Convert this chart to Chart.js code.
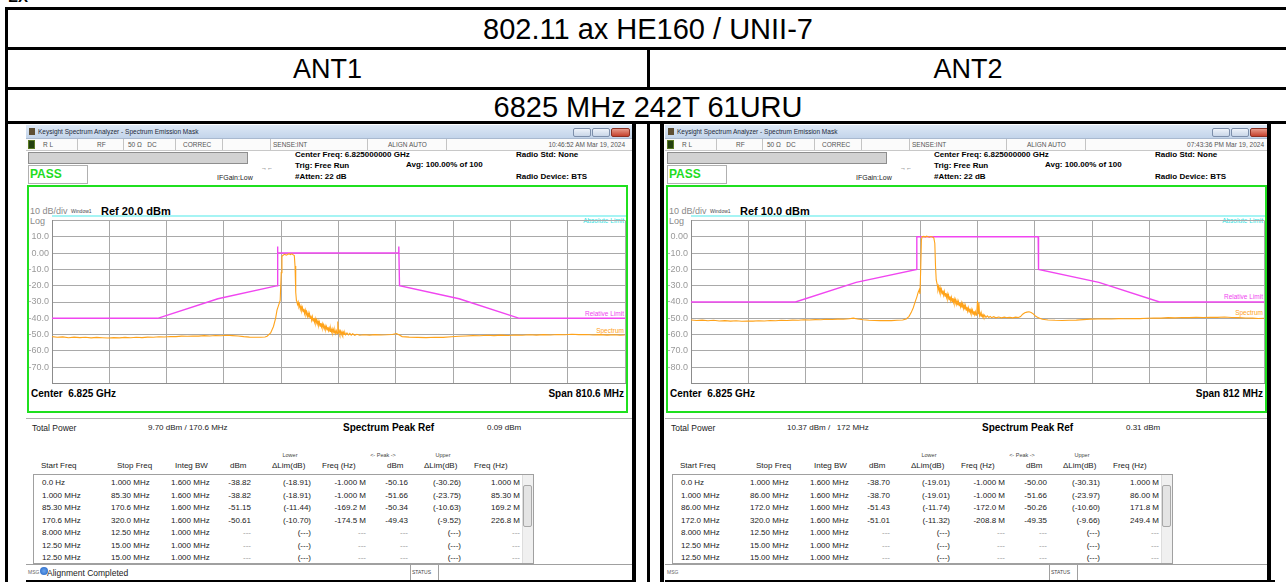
<!DOCTYPE html>
<html>
<head>
<meta charset="utf-8">
<script src="https://cdn.jsdelivr.net/npm/chart.js@4.4.1/dist/chart.umd.min.js"></script>
<style>
  body { margin:0; width:1286px; height:582px; overflow:hidden; position:relative; background:#fff;
         font-family:"Liberation Sans", Arial, sans-serif; color:#000; }
  .ln { position:absolute; background:#000; }
  .hd { position:absolute; text-align:center; font-size:29px; line-height:32px; }
  .panel { position:absolute; top:0; width:610px; height:582px; }
  .t { position:absolute; white-space:nowrap; line-height:12px; height:12px; }
  .box { position:absolute; box-sizing:border-box; }
</style>
</head>
<body>
<div class="t" style="left:8px;top:-9px;font-size:15px;font-weight:bold;">EX</div>
<!-- outer table -->
<div class="ln" style="left:5px;top:7px;width:1281px;height:3px"></div>
<div class="ln" style="left:5px;top:47px;width:1281px;height:3px"></div>
<div class="ln" style="left:5px;top:87px;width:1281px;height:3px"></div>
<div class="ln" style="left:5px;top:121px;width:1281px;height:3px"></div>
<div class="ln" style="left:5px;top:7px;width:3px;height:575px"></div>
<div class="ln" style="left:647px;top:47px;width:3px;height:43px"></div>
<div class="ln" style="left:647px;top:121px;width:3px;height:461px"></div>
<div class="hd" style="left:8px;width:1280px;top:13px">802.11 ax HE160 / UNII-7</div>
<div class="hd" style="left:8px;width:639px;top:53px;font-size:27px">ANT1</div>
<div class="hd" style="left:650px;width:636px;top:53px;font-size:27px">ANT2</div>
<div class="hd" style="left:8px;width:1280px;top:91px">6825 MHz 242T 61URU</div>

<div class="panel" id="p1"><canvas id="c1" width="598" height="180"></canvas></div>
<div class="panel" id="p2"><canvas id="c2" width="598" height="180"></canvas></div>

<script>
// ---- ANT1 (span 810.6 MHz, ref 20 dBm) ----  x = offset from 6.825 GHz in MHz
const ANT1_X_GRID = [-405.3, -324.2, -243.2, -162.1, -81.1, 0, 81.1, 162.1, 243.2, 324.2, 405.3];
const ANT1_Y_TICKS = [-80, -70, -60, -50, -40, -30, -20, -10, 0, 10, 20];
const ANT1_Y_LABELS = ['', '-70.0', '-60.0', '-50.0', '-40.0', '-30.0', '-20.0', '-10.0', '0.00', '10.0', ''];
const ANT1_MASK = [[-405.3,-40],[-255.9,-40],[-170.6,-28],[-86.3,-20],[-86.3,4],[-85.8,0],
  [85.3,0],[85.3,4],[86.3,-20],[170.6,-28],[255.9,-40],[405.3,-40]];
const ANT1_SPECTRUM = [
  [-405,-51.2],[-398,-51.6],[-390,-51.4],[-382,-51.9],[-374,-51.5],[-366,-51.8],[-358,-51.6],[-350,-52.0],
  [-342,-51.7],[-334,-51.9],[-326,-52.1],[-318,-51.8],[-310,-52.0],[-302,-51.7],[-294,-51.9],[-286,-51.6],
  [-278,-51.8],[-270,-51.5],[-262,-51.6],[-254,-51.3],[-246,-51.4],[-238,-51.1],[-230,-51.2],[-222,-50.9],
  [-214,-51.0],[-206,-50.8],[-198,-50.9],[-190,-50.6],[-182,-50.8],[-174,-50.5],[-166,-50.7],[-158,-50.4],
  [-150,-50.6],[-142,-50.8],[-134,-51.2],[-126,-51.5],[-118,-51.6],[-110,-51.6],[-104,-51.4],
  [-101,-51],[-96,-49],[-92,-45],[-89,-40],[-87,-35],[-84,-31],[-82.5,-29],[-81,-12],[-80,-2],
  [-78,-1.2],[-76,-0.8],[-74,-1.3],[-72,-0.9],[-70,-0.4],[-68,-1.0],[-66,-0.5],[-64,-1.1],[-62.5,-1.6],
  [-61.5,-8],[-60.5,-24],[-59.5,-29.2],
  [-59,-29.5],[-58,-31.5],[-57,-30],[-56,-33],[-55,-31.8],[-54,-34.5],[-53,-32.6],[-52,-35.2],[-51,-33.4],
  [-50,-36],[-49,-34.2],[-48,-37.1],[-47,-35],[-46,-37.8],[-45,-36.1],[-44,-38.9],[-43,-36.8],[-42,-39.5],
  [-41,-37.2],[-40,-40.1],[-39,-38.3],[-38,-41.2],[-37,-39],[-36,-41.6],[-35,-39.8],[-34,-42.4],[-33,-40.2],
  [-32,-43],[-31,-41.1],[-30,-43.5],[-29,-41.6],[-28,-44.2],[-27,-42.3],[-26,-44.8],[-25,-42.9],[-24,-45.3],
  [-23,-43.4],[-22,-45.9],[-21,-44],[-20,-46.3],[-19,-44.6],[-18,-46.8],[-17,-45],[-16,-47.2],[-15,-45.3],
  [-14,-47.6],[-13,-45.9],[-12,-48],[-11,-46.2],[-10,-48.3],[-9,-46.5],[-8,-48.8],[-7,-46.9],[-6,-49],
  [-5,-47.2],[-4,-49.3],[-3,-47.6],[-2,-49.5],[-1,-42],[0,-48.6],[1,-47.5],[2,-49.6],[3,-47.9],[4,-49.8],
  [5,-48.2],[6,-50],[7,-48.5],[8,-49.9],[9,-48.7],[10,-50.1],[12,-49],[14,-50.2],[16,-49.2],[18,-50.3],
  [20,-49.5],[23,-50.4],[26,-49.8],[30,-50.4],
  [36,-50.1],[44,-50.3],[52,-50],[60,-50.2],[68,-50.1],[76,-49.9],[82,-49.3],[86,-50.2],[90,-51.2],
  [100,-51.5],[112,-51.7],[124,-51.8],[136,-51.6],[148,-51.7],[160,-51.3],[170,-51],[180,-50.8],[190,-50.6],
  [200,-50.7],[210,-50.4],[220,-50.6],[230,-50.3],[240,-50.5],[250,-50.2],[260,-50.4],[270,-50.1],
  [280,-50.3],[290,-50],[300,-50.2],[310,-49.9],[320,-50.1],[330,-49.8],[340,-50],[350,-49.9],[360,-50.2],
  [370,-50],[380,-50.3],[390,-50.1],[398,-50.4],[405,-50.2]
];
const ANT1_ROWS = [
  ['0.0 Hz','1.000 MHz','1.600 MHz','-38.82','(-18.91)','-1.000 M','-50.16','(-30.26)','1.000 M'],
  ['1.000 MHz','85.30 MHz','1.600 MHz','-38.82','(-18.91)','-1.000 M','-51.66','(-23.75)','85.30 M'],
  ['85.30 MHz','170.6 MHz','1.600 MHz','-51.15','(-11.44)','-169.2 M','-50.34','(-10.63)','169.2 M'],
  ['170.6 MHz','320.0 MHz','1.600 MHz','-50.61','(-10.70)','-174.5 M','-49.43','(-9.52)','226.8 M'],
  ['8.000 MHz','12.50 MHz','1.000 MHz','---','(---)','---','---','(---)','---'],
  ['12.50 MHz','15.00 MHz','1.000 MHz','---','(---)','---','---','(---)','---'],
  ['12.50 MHz','15.00 MHz','1.000 MHz','---','(---)','---','---','(---)','---']
];

// ---- ANT2 (span 812 MHz, ref 10 dBm) ----
const ANT2_X_GRID = [-406, -324.8, -243.6, -162.4, -81.2, 0, 81.2, 162.4, 243.6, 324.8, 406];
const ANT2_Y_TICKS = [-90, -80, -70, -60, -50, -40, -30, -20, -10, 0, 10];
const ANT2_Y_LABELS = ['', '-80.0', '-70.0', '-60.0', '-50.0', '-40.0', '-30.0', '-20.0', '-10.0', '0.00', ''];
const ANT2_MASK = [[-406,-40],[-258,-40],[-172,-28],[-86,-20],[-86,0],[86,0],[86.5,-20],[172,-28],[258,-40],[406,-40]];
const ANT2_SPECTRUM = [
  [-406,-51],[-398,-51.3],[-390,-51.1],[-382,-51.5],[-374,-51.2],[-366,-51.6],[-358,-51.4],[-350,-51.7],
  [-342,-51.5],[-334,-51.8],[-326,-51.6],[-318,-51.7],[-310,-51.5],[-302,-51.6],[-294,-51.3],[-286,-51.5],
  [-278,-51.2],[-270,-51.3],[-262,-51.1],[-254,-51.2],[-246,-50.9],[-238,-51],[-230,-50.8],[-222,-50.9],
  [-214,-50.6],[-206,-50.7],[-198,-50.5],[-190,-50.6],[-182,-50.3],[-176,-49.9],[-170,-50.4],[-162,-50.9],
  [-154,-51.2],[-146,-51.3],[-138,-51.4],[-130,-51.3],[-122,-51.4],[-114,-51.2],[-106,-51],[-101,-50.4],
  [-97,-48.8],[-94,-46.5],[-91,-43.5],[-88,-39.5],[-86,-37],[-84,-34],[-82.5,-32.5],[-81.5,-35],[-80.5,-20],
  [-79.5,-2],[-78.5,0],[-76,0.2],[-74,-0.2],[-72,0.31],[-70,0],[-68,-0.3],[-66,0.1],[-64,-0.2],[-62,-0.6],
  [-60.5,-4],[-59.5,-18],[-58.5,-26.5],[-57,-29.5],[-56,-32.5],
  [-55,-30.6],[-54,-33.8],[-53,-31.2],[-52,-34.4],[-51,-32.3],[-50,-35],[-49,-32.9],[-48,-35.8],[-47,-33.6],
  [-46,-36.4],[-45,-34.5],[-44,-37.2],[-43,-35.1],[-42,-37.9],[-41,-35.8],[-40,-38.6],[-39,-36.5],[-38,-39.2],
  [-37,-37.1],[-36,-39.8],[-35,-37.6],[-34,-40.3],[-33,-38.2],[-32,-40.8],[-31,-38.7],[-30,-41.4],[-29,-39.3],
  [-28,-41.9],[-27,-39.7],[-26,-42.3],[-25,-40.3],[-24,-42.9],[-23,-40.6],[-22,-43.4],[-21,-41.2],[-20,-44],
  [-19,-41.8],[-18,-44.5],[-17,-42.3],[-16,-45],[-15,-42.9],[-14,-45.6],[-13,-43.5],[-12,-46.1],[-11,-44],
  [-10,-46.6],[-9,-44.6],[-8,-47],[-7,-45.1],[-6,-47.4],[-5,-45.6],[-4,-47.8],[-3,-46],[-2,-48.1],[-1,-46.4],
  [0,-39.2],[1,-47.2],[2,-40.5],[3,-48.3],[4,-46.8],[5,-48.7],[6,-47.3],[7,-49],[8,-47.8],[9,-49.2],
  [10,-48.1],[12,-49.4],[14,-48.5],[16,-49.5],[18,-48.8],[20,-49.6],[23,-49],[26,-49.7],[30,-49.2],
  [34,-49.7],[38,-49.3],[42,-49.6],[46,-49.4],[50,-49.7],[54,-49.3],[58,-49.5],[61,-48.9],[64,-47.5],
  [67,-46.6],[70,-46.2],[73,-46],[76,-46.4],[79,-47.3],[82,-48.6],[85,-49.4],[88,-49.9],[92,-50.6],
  [100,-51],[110,-51.2],[120,-51.3],[130,-51.2],[140,-51.1],[150,-50.8],[160,-50.5],[170,-50.4],[180,-50.3],
  [190,-50.4],[200,-50.2],[210,-50.3],[220,-50.1],[230,-50.2],[240,-50],[250,-49.8],[260,-49.9],[270,-49.6],
  [280,-49.7],[290,-49.5],[300,-49.6],[310,-49.4],[320,-49.5],[330,-49.3],[340,-49.4],[350,-49.2],
  [360,-49.5],[370,-49.6],[380,-49.8],[390,-49.9],[398,-50.1],[406,-50]
];
const ANT2_ROWS = [
  ['0.0 Hz','1.000 MHz','1.600 MHz','-38.70','(-19.01)','-1.000 M','-50.00','(-30.31)','1.000 M'],
  ['1.000 MHz','86.00 MHz','1.600 MHz','-38.70','(-19.01)','-1.000 M','-51.66','(-23.97)','86.00 M'],
  ['86.00 MHz','172.0 MHz','1.600 MHz','-51.43','(-11.74)','-172.0 M','-50.26','(-10.60)','171.8 M'],
  ['172.0 MHz','320.0 MHz','1.600 MHz','-51.01','(-11.32)','-208.8 M','-49.35','(-9.66)','249.4 M'],
  ['8.000 MHz','12.50 MHz','1.000 MHz','---','(---)','---','---','(---)','---'],
  ['12.50 MHz','15.00 MHz','1.000 MHz','---','(---)','---','---','(---)','---'],
  ['12.50 MHz','15.00 MHz','1.000 MHz','---','(---)','---','---','(---)','---']
];

const FONT = '"Liberation Sans", Arial, sans-serif';

// text helpers (x relative to panel, y = vertical centre)
const T  = (x, y, s, st = '') => `<div class="t" style="left:${x}px;top:${y - 6}px;${st}">${s}</div>`;
const TR = (x, y, s, st = '') => `<div class="t" style="left:${x - 200}px;width:200px;text-align:right;top:${y - 6}px;${st}">${s}</div>`;
const TC = (x, y, s, st = '') => `<div class="t" style="left:${x - 60}px;width:120px;text-align:center;top:${y - 6}px;${st}">${s}</div>`;
const B  = (x, y, w, h, st) => `<div class="box" style="left:${x}px;top:${y}px;width:${w}px;height:${h}px;${st}"></div>`;

// column anchors inside the result box: [x, align]
const COLS = [[8,'l'],[77,'l'],[137,'l'],[217,'r'],[277,'r'],[332,'r'],[374,'r'],[427,'r'],[486,'r']];

function buildPanel(el, p) {
  const s7 = 'font-size:6.5px;color:#555;';
  const b8 = 'font-size:8px;font-weight:bold;';
  let h = '';
  h += B(0, 124, 606, 458, 'background:#fff');
  // title bar
  h += B(0, 125, 606, 14, 'background:linear-gradient(#dde8f5,#c3d4ea);border-bottom:1px solid #a9b9cf');
  h += B(3, 128, 6, 7, 'background:#5e4f33');
  h += T(12, 132, 'Keysight Spectrum Analyzer - Spectrum Emission Mask', 'font-size:6.5px;color:#1e2a3a');
  h += B(547, 128, 18, 9, 'background:linear-gradient(#eef3fa,#c9d6e8);border:1px solid #7d8fab;border-radius:2px');
  h += B(566, 128, 18, 9, 'background:linear-gradient(#eef3fa,#c9d6e8);border:1px solid #7d8fab;border-radius:2px');
  h += B(585, 128, 19, 9, 'background:linear-gradient(#e89a8a,#c5422e);border:1px solid #8b3023;border-radius:2px');
  // status row
  h += B(0, 139, 606, 12, 'background:#fbfbfb;border-bottom:1px solid #c8c8c8');
  h += B(2, 140, 7, 9, 'background:#23400f;border:1px solid #5a7a22');
  [51, 97, 149, 196, 244, 341, 420].forEach(x => { h += B(x, 139, 1, 11, 'background:#c4c4c4'); });
  h += T(17, 145, 'R L', s7) + T(71, 145, 'RF', s7) + T(102, 145, '50 &Omega; &nbsp;&nbsp;DC', s7)
     + T(157, 145, 'CORREC', s7) + T(247, 145, 'SENSE:INT', s7) + T(362, 145, 'ALIGN AUTO', s7)
     + TR(599, 145, p.ts, s7);
  // info block
  h += B(2, 152, 220, 12, 'background:#d2d2d2;border:1px solid #8e8e8e');
  h += B(2, 165, 60, 19, 'background:#fff;border:1px solid #b0b0b0');
  h += T(4, 174, 'PASS', 'font-size:12px;font-weight:bold;color:#1fdc1f');
  h += T(191, 178, 'IFGain:Low', 'font-size:7px;color:#222');
  h += T(235, 168, '&#8594;&#8592;', 'font-size:6px;color:#333');
  h += T(269, 155, 'Center Freq: 6.825000000 GHz', b8) + T(269, 165.5, 'Trig: Free Run', b8)
     + T(269, 176.5, '#Atten: 22 dB', b8) + T(380, 165, 'Avg: 100.00% of 100', b8)
     + T(490, 155, 'Radio Std: None', b8) + T(490, 176.5, 'Radio Device: BTS', b8);
  // graticule frame
  h += B(1, 185, 601, 228, 'border:2px solid #1fe01f;background:#fff');
  h += B(26, 215, 574, 2, 'background:#a6f4f4');
  h += T(4, 211, '10 dB/div', 'font-size:9px;color:#8a8a8a') + T(45, 211, 'Window1', 'font-size:5px;color:#444');
  h += T(75, 211, p.ref, 'font-size:11px;font-weight:bold');
  h += T(4, 221, 'Log', 'font-size:9px;color:#8a8a8a');
  h += TR(598, 221, 'Absolute Limit', 'font-size:6.5px;color:#35e0e0');
  h += TR(598, p.relY, 'Relative Limit', 'font-size:6.5px;color:#f044f0');
  h += TR(598, p.specY, 'Spectrum', 'font-size:6.5px;color:#ffa31a');
  h += T(5, 394, 'Center&nbsp; 6.825 GHz', 'font-size:10px;font-weight:bold');
  h += TR(598, 394, p.span, 'font-size:10px;font-weight:bold');
  // result area
  h += B(0, 418, 606, 1, 'background:#b0b0b0');
  h += T(6, 428, 'Total Power', 'font-size:8.5px;color:#222') + T(122, 428, p.tp, 'font-size:8px;color:#222');
  h += T(317, 428, 'Spectrum Peak Ref', 'font-size:10px;font-weight:bold') + T(461, 428, p.peak, 'font-size:8px;color:#222');
  const s5 = 'font-size:5.5px;color:#444;';
  h += TC(264, 455, 'Lower', s5) + TC(357, 455, '&lt;- Peak -&gt;', s5) + TC(417, 455, 'Upper', s5);
  const s8 = 'font-size:8px;color:#222;';
  h += T(15, 466, 'Start Freq', s8) + T(91, 466, 'Stop Freq', s8) + T(149, 466, 'Integ BW', s8)
     + T(204, 466, 'dBm', s8) + T(246, 466, '&Delta;Lim(dB)', s8) + T(296, 466, 'Freq (Hz)', s8)
     + T(361, 466, 'dBm', s8) + T(398, 466, '&Delta;Lim(dB)', s8) + T(448, 466, 'Freq (Hz)', s8);
  let rows = '';
  p.rows.forEach((r, i) => {
    const y = 8 + 12.5 * i;
    r.forEach((v, j) => {
      const [x, a] = COLS[j];
      const st = s8 + (v === '---' ? 'color:#999;' : '');
      rows += a === 'l' ? T(x, y, v, st) : TR(x, y, v, st);
    });
  });
  h += `<div class="box" style="left:7px;top:474px;width:501px;height:90px;border:1px solid #a0a0a0;overflow:hidden;background:#fff">${rows}</div>`;
  h += B(496, 475, 11, 88, 'background:#f0f0f0;border-left:1px solid #ddd');
  h += B(497, 485, 9, 42, 'background:#e4e4e4;border:1px solid #a8a8a8;border-radius:2px');
  // message bar
  h += B(0, 564, 606, 16, 'background:#fff;border-top:1px solid #a0a0a0');
  h += T(2, 572, 'MSG', 'font-size:5px;color:#666');
  if (p.msg) {
    h += B(14, 567, 8, 8, 'background:radial-gradient(#6aa6f0,#1f5fc0);border-radius:50%');
    h += T(21, 573, p.msg, 'font-size:8.5px;color:#222');
  }
  h += B(384, 565, 29, 15, 'border-left:1px solid #a0a0a0;border-right:1px solid #a0a0a0');
  h += T(386, 572, 'STATUS', 'font-size:5px;color:#444');
  h += B(0, 580, 610, 2, 'background:#000');
  p.blacks.forEach(x => { h += B(x, 124, 4, 458, 'background:#000'); });
  el.insertAdjacentHTML('afterbegin', h);
}

function drawTrace(canvas, p) {
  const pts = arr => arr.map(([x, y]) => ({ x, y }));
  const grid = { color: '#a9a9a9', lineWidth: 1, drawTicks: false };
  new Chart(canvas, {
    type: 'line',
    data: {
      datasets: [
        { data: pts(p.spectrum), borderColor: '#ffa31a', borderWidth: 1.1, pointRadius: 0, tension: 0 },
        { data: pts(p.mask), borderColor: '#f046f0', borderWidth: 1.4, pointRadius: 0, tension: 0 }
      ]
    },
    options: {
      responsive: false, animation: false, events: [],
      layout: { padding: { top: 6, bottom: 5, right: 1, left: 0 } },
      plugins: { legend: { display: false }, tooltip: { enabled: false } },
      scales: {
        x: {
          type: 'linear', min: p.xGrid[0], max: p.xGrid[p.xGrid.length - 1],
          afterBuildTicks: a => { a.ticks = p.xGrid.map(v => ({ value: v })); },
          afterFit: a => { a.height = 0; },
          ticks: { display: false }, grid, border: { color: '#8c8c8c' }
        },
        y: {
          min: p.yTicks[0], max: p.yTicks[p.yTicks.length - 1],
          afterBuildTicks: a => { a.ticks = p.yTicks.map(v => ({ value: v })); },
          afterFit: a => { a.width = 24; },
          ticks: { autoSkip: false, padding: 3, color: '#9a9a9a', font: { size: 9, family: FONT },
                   callback: (v, i) => p.yLabels[i] },
          grid, border: { color: '#8c8c8c' }
        }
      }
    }
  });
}

const P1 = document.getElementById('p1');
const P2 = document.getElementById('p2');
P1.style.left = '26px';
P2.style.left = '665px';
[document.getElementById('c1'), document.getElementById('c2')].forEach(c => {
  c.style.cssText = 'position:absolute;left:2px;top:212px;z-index:2';
});

buildPanel(P1, { ts: '10:46:52 AM Mar 19, 2024', ref: 'Ref 20.0 dBm', span: 'Span 810.6 MHz',
  tp: '9.70 dBm / 170.6 MHz', peak: '0.09 dBm', rows: ANT1_ROWS, relY: 314, specY: 331,
  msg: 'Alignment Completed', blacks: [606] });
buildPanel(P2, { ts: '07:43:36 PM Mar 19, 2024', ref: 'Ref 10.0 dBm', span: 'Span 812 MHz',
  tp: '10.37 dBm /&nbsp;&nbsp; 172 MHz', peak: '0.31 dBm', rows: ANT2_ROWS, relY: 297, specY: 313,
  msg: '', blacks: [-5, 602] });

drawTrace(document.getElementById('c1'), { xGrid: ANT1_X_GRID, yTicks: ANT1_Y_TICKS, yLabels: ANT1_Y_LABELS,
  mask: ANT1_MASK, spectrum: ANT1_SPECTRUM });
drawTrace(document.getElementById('c2'), { xGrid: ANT2_X_GRID, yTicks: ANT2_Y_TICKS, yLabels: ANT2_Y_LABELS,
  mask: ANT2_MASK, spectrum: ANT2_SPECTRUM });
</script>
</body>
</html>
